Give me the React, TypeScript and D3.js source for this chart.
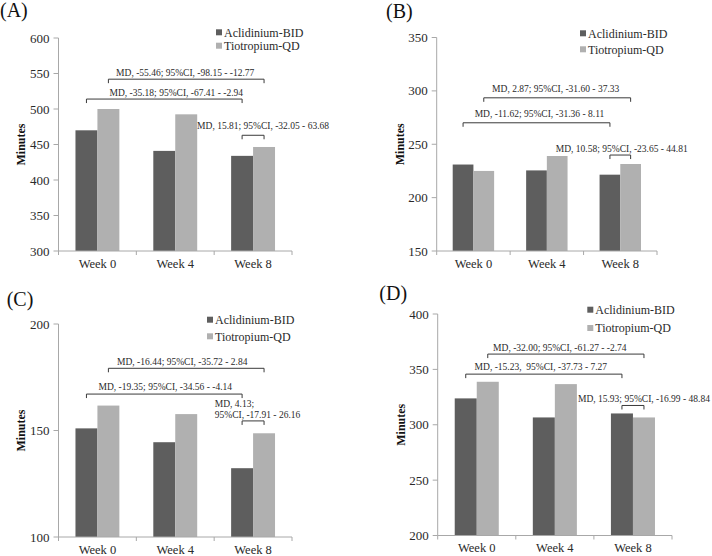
import React from "react";
import * as d3 from "d3";

// categories and series
const weeks = ["Week 0", "Week 4", "Week 8"];
const seriesNames = ["Aclidinium-BID", "Tiotropium-QD"];
const seriesColors = ["#5e5e5e", "#b0b0b0"];

// values (minutes)
const aclidA = [470, 441, 434];
const tiotA = [500, 492.5, 446.5];
const aclidB = [231, 225.5, 221.5];
const tiotB = [225, 239, 231.5];
const aclidC = [151, 144.5, 132.3];
const tiotC = [161.7, 157.7, 148.7];
const aclidD = [323.8, 306.6, 310.2];
const tiotD = [338.8, 336.7, 306.6];

// y ranges and ticks
const domainA = [300, 600];
const domainB = [150, 350];
const domainC = [100, 200];
const domainD = [200, 400];
const ticksA = [300, 350, 400, 450, 500, 550, 600];
const ticksB = [150, 200, 250, 300, 350];
const ticksC = [100, 150, 200];
const ticksD = [200, 250, 300, 350, 400];

// comparison brackets: [week, series] -> [week, series], level in minutes
const bracketsA = [
  { from: [0, 1], to: [2, 1], level: 542, lines: ["MD, -55.46; 95%CI, -98.15 - -12.77"] },
  { from: [0, 0], to: [2, 0], level: 514, lines: ["MD, -35.18; 95%CI, -67.41 - -2.94"] },
  { from: [2, 0], to: [2, 1], level: 463, lines: ["MD, 15.81; 95%CI, -32.05 - 63.68"] },
];
const bracketsB = [
  { from: [0, 1], to: [2, 1], level: 293.5, lines: ["MD, 2.87; 95%CI, -31.60 - 37.33"] },
  { from: [0, 0], to: [2, 0], level: 270.1, lines: ["MD, -11.62; 95%CI, -31.36 - 8.11"] },
  { from: [2, 0], to: [2, 1], level: 239.9, lines: ["MD, 10.58; 95%CI, -23.65 - 44.81"] },
];
const bracketsC = [
  { from: [0, 1], to: [2, 1], level: 179.2, lines: ["MD, -16.44; 95%CI, -35.72 - 2.84"] },
  { from: [0, 0], to: [2, 0], level: 167.1, lines: ["MD, -19.35; 95%CI, -34.56 - -4.14"] },
  { from: [2, 0], to: [2, 1], level: 154.5, lines: ["MD, 4.13;", "95%CI, -17.91 - 26.16"] },
];
const bracketsD = [
  { from: [0, 1], to: [2, 1], level: 363.8, lines: ["MD, -32.00; 95%CI, -61.27 - -2.74"] },
  { from: [0, 0], to: [2, 0], level: 345.7, lines: ["MD, -15.23,  95%CI, -37.73 - 7.27"] },
  { from: [2, 0], to: [2, 1], level: 317.4, lines: ["MD, 15.93; 95%CI, -16.99 - 48.84"] },
];

// where the bracket labels sit (px, relative to bracket middle)
const labelPosA = [{ dx: -1, gap: 3.5, anchor: "middle" }, { dx: 12, gap: 3, anchor: "middle" }, { dx: -56, gap: 6.5, anchor: "start" }];
const labelPosB = [{ dx: -1.5, gap: 5.4, anchor: "middle" }, { dx: 3, gap: 5.4, anchor: "middle" }, { dx: -64.5, gap: 3, anchor: "start" }];
const labelPosC = [{ dx: -4, gap: 3.7, anchor: "middle" }, { dx: 1, gap: 4, anchor: "middle" }, { dx: -38.3, gap: 2.7, anchor: "start" }];
const labelPosD = [{ dx: -6, gap: 3, anchor: "middle" }, { dx: -3, gap: 3.7, anchor: "middle" }, { dx: -55, gap: 3.3, anchor: "start" }];

const panels = [
  { tag: "(A)", tagX: 0, tagY: 17, left: 58.5, right: 292, top: 38, bottom: 251, yLabX: 21,
    legX: 216, legY: [32.3, 45.7], domain: domainA, ticks: ticksA, values: [aclidA, tiotA], brackets: bracketsA, labelPos: labelPosA },
  { tag: "(B)", tagX: 386, tagY: 18, left: 436.7, right: 657, top: 37.5, bottom: 251, yLabX: 399.3,
    legX: 580, legY: [33.3, 49.3], domain: domainB, ticks: ticksB, values: [aclidB, tiotB], brackets: bracketsB, labelPos: labelPosB },
  { tag: "(C)", tagX: 6.7, tagY: 306, left: 58.5, right: 292, top: 324, bottom: 537, yLabX: 21,
    legX: 207, legY: [319.7, 336.3], domain: domainC, ticks: ticksC, values: [aclidC, tiotC], brackets: bracketsC, labelPos: labelPosC },
  { tag: "(D)", tagX: 379.3, tagY: 299.5, left: 437.7, right: 672, top: 314, bottom: 535.5, yLabX: 400.3,
    legX: 587.3, legY: [309.7, 328], domain: domainD, ticks: ticksD, values: [aclidD, tiotD], brackets: bracketsD, labelPos: labelPosD },
];

const serif = "Liberation Serif, DejaVu Serif, Times New Roman, serif";
const axisColor = "#a8a8a8";
const textColor = "#2a2a2a";

function Panel({ p }: { p: any }) {
  const x = d3.scaleBand<string>().domain(weeks).range([p.left, p.right]).paddingInner(0.436).paddingOuter(0.218);
  const xs = d3.scaleBand<string>().domain(seriesNames).range([0, x.bandwidth()]);
  const y = d3.scaleLinear().domain(p.domain).range([p.bottom, p.top]);
  const edges = d3.scaleLinear().domain([0, weeks.length]).range([p.left, p.right]);

  const barMid = (ref: number[]) => (x(weeks[ref[0]]) as number) + (xs(seriesNames[ref[1]]) as number) + xs.bandwidth() / 2;

  return (
    <g>
      <text x={p.tagX} y={p.tagY} fontSize={20} fill="#111">{p.tag}</text>

      {/* bars */}
      {p.values.map((vals: number[], si: number) =>
        vals.map((v, ci) => (
          <rect key={`${si}-${ci}`} x={(x(weeks[ci]) as number) + (xs(seriesNames[si]) as number)} y={y(v)}
            width={xs.bandwidth()} height={p.bottom - y(v)} fill={seriesColors[si]} />
        ))
      )}

      {/* y axis */}
      <line x1={p.left} x2={p.left} y1={p.top} y2={p.bottom} stroke={axisColor} />
      {p.ticks.map((t: number) => (
        <g key={t}>
          <line x1={p.left - 5} x2={p.left} y1={y(t)} y2={y(t)} stroke={axisColor} />
          <text x={p.left - 9} y={y(t)} dy="0.35em" textAnchor="end" fontSize={13} fill={textColor}>{t}</text>
        </g>
      ))}
      <text transform={`translate(${p.yLabX},${(p.top + p.bottom) / 2}) rotate(-90)`} textAnchor="middle" dy="0.35em"
        fontSize={12} fontWeight="bold" fill="#111">Minutes</text>

      {/* x axis */}
      <line x1={p.left} x2={p.right} y1={p.bottom} y2={p.bottom} stroke={axisColor} />
      {d3.range(weeks.length + 1).map((i) => (
        <line key={i} x1={edges(i)} x2={edges(i)} y1={p.bottom} y2={p.bottom + 4} stroke={axisColor} />
      ))}
      {weeks.map((w) => (
        <text key={w} x={(x(w) as number) + x.bandwidth() / 2} y={p.bottom + 16.5} textAnchor="middle"
          fontSize={12.5} fill={textColor}>{w}</text>
      ))}

      {/* legend */}
      {seriesNames.map((s, i) => (
        <g key={s}>
          <rect x={p.legX} y={p.legY[i] - 3} width={6} height={6} fill={seriesColors[i]} />
          <text x={p.legX + 8} y={p.legY[i]} dy="0.35em" fontSize={12} fill={textColor}>{s}</text>
        </g>
      ))}

      {/* brackets */}
      {p.brackets.map((b: any, i: number) => {
        const x1 = barMid(b.from);
        const x2 = barMid(b.to);
        const yy = y(b.level);
        const pos = p.labelPos[i];
        const lx = (x1 + x2) / 2 + pos.dx;
        const n = b.lines.length;
        return (
          <g key={i}>
            <path d={`M${x1},${yy + 4}V${yy}H${x2}V${yy + 4}`} fill="none" stroke="#3a3a3a" strokeWidth={1} />
            {b.lines.map((ln: string, j: number) => (
              <text key={j} x={lx} y={yy - pos.gap - (n - 1 - j) * 11.7} textAnchor={pos.anchor}
                fontSize={9.5} fill={textColor} style={{ whiteSpace: "pre" }}>{ln}</text>
            ))}
          </g>
        );
      })}
    </g>
  );
}

export default function App() {
  return (
    <svg width={712} height={556} fontFamily={serif}
      style={{ position: "absolute", left: 0, top: 0, background: "#fff", fontFamily: serif }}>
      {panels.map((p) => (
        <Panel key={p.tag} p={p} />
      ))}
    </svg>
  );
}
